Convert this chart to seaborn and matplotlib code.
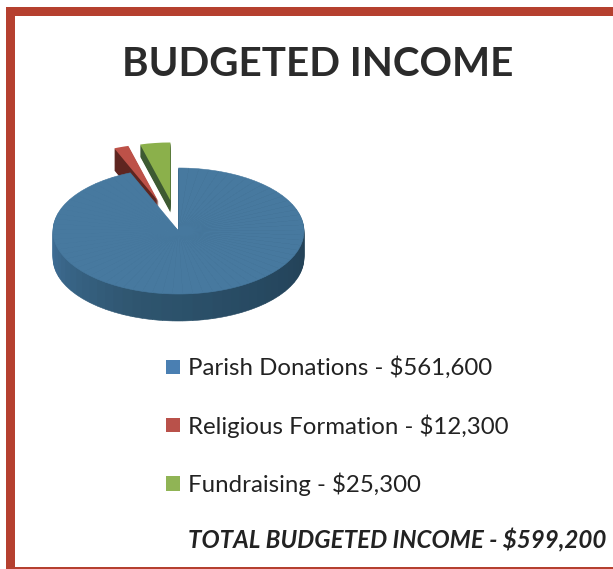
import matplotlib
matplotlib.use("Agg")
import matplotlib.pyplot as plt
from matplotlib.patches import Rectangle
import numpy as np
import seaborn as sns

title = "BUDGETED INCOME"
categories = ["Parish Donations", "Religious Formation", "Fundraising"]
amounts = [561600, 12300, 25300]
total_label = "TOTAL BUDGETED INCOME - $599,200"

TOP = sns.color_palette(["#47799f", "#bd5148", "#8bb04b"])
LEG = sns.color_palette(["#4a7fb2", "#b9514a", "#90b455"])
WALL_RED, WALL_GREEN = "#5e2520", "#3d5a32"
N = 72
RIM = sns.blend_palette(["#274559", "#223f53", "#264860", "#2f5670", "#3f6e96", "#41709a"], N)

sns.set_theme(style="white")
plt.rcParams["font.family"] = ["Lato", "DejaVu Sans"]

W, H = 613, 569
CX, CY, RX, RY = 178.5, 231.0, 125.5, 63.0
DEPTH_MAIN, DEPTH_RED, DEPTH_GREEN = 27, 22, 12
EXPLODE, SMALL_R = 0.45, 0.92

fig = plt.figure(figsize=(W / 100, H / 100), dpi=100, facecolor="white")
ax = fig.add_axes([0, 0, 1, 1])

amounts_arr = np.array(amounts, dtype=float)
split = np.concatenate([np.full(N, amounts_arr[0] / N), amounts_arr[1:]])


def small_layer(depth, colors, keep):
    # explode is scaled so the offset stays the same at the smaller slice radius
    w, _ = ax.pie(amounts, explode=(0, EXPLODE / SMALL_R, EXPLODE / SMALL_R), startangle=90,
                  counterclock=False, center=(0, -depth / RY), radius=SMALL_R, colors=colors,
                  wedgeprops=dict(linewidth=0))
    for i, wedge in enumerate(w):
        wedge.set_visible(i in keep)


def main_layer(depth, colors, lw=0.4):
    w, _ = ax.pie(split, startangle=90, counterclock=False, center=(0, -depth / RY), radius=1,
                  colors=colors, wedgeprops=dict(linewidth=lw))
    for wedge, c in zip(w, colors):
        wedge.set_edgecolor(c)
    w[-1].set_visible(False)
    w[-2].set_visible(False)


# exploded slices: side walls, then top faces
for d in range(DEPTH_GREEN, 0, -1):
    small_layer(d, ["white", "white", WALL_GREEN], {2})
small_layer(0, TOP, {2})
for d in range(DEPTH_RED, 0, -1):
    small_layer(d, ["white", WALL_RED, "white"], {1})
small_layer(0, TOP, {1})

# main slice: shaded side wall, then top face
for d in range(DEPTH_MAIN, 0, -1):
    main_layer(d, list(RIM) + ["white", "white"])
main_layer(0, [TOP[0]] * N + ["white", "white"])

ax.set_aspect("auto")
ax.set_xlim(-CX / RX, (W - CX) / RX)
ax.set_ylim((CY - H) / RY, CY / RY)
ax.axis("off")

# page border
BORDER = "#b5402f"
for x, y, w, h in [(6, 7, 607, 9), (6, 7, 9, 561), (6, 566.5, 607, 2)]:
    fig.add_artist(Rectangle((x / W, 1 - (y + h) / H), w / W, h / H, transform=fig.transFigure,
                             facecolor=BORDER, edgecolor="none"))

fig.text(317.5 / W, 1 - 64 / H, title, ha="center", va="center", fontsize=29.1, fontweight="bold", color="#2b2b2b")

handles = [Rectangle((0, 0), 1, 1, facecolor=c, edgecolor="none") for c in LEG]
labels = [f"{c} - ${a:,}" for c, a in zip(categories, amounts)]
fig.legend(handles, labels, loc="upper left", bbox_to_anchor=(156.3 / W, 1 - 347 / H), frameon=False,
           fontsize=17.3, labelcolor="#222222", handlelength=0.58, handleheight=0.54,
           handletextpad=0.33, labelspacing=1.45, borderpad=0.4, borderaxespad=0)

fig.text(606 / W, 1 - 540 / H, total_label, ha="right", va="center", fontsize=17.4,
         fontweight="bold", fontstyle="italic", color="#222222")

fig.savefig("out.png", dpi=100, facecolor="white")
